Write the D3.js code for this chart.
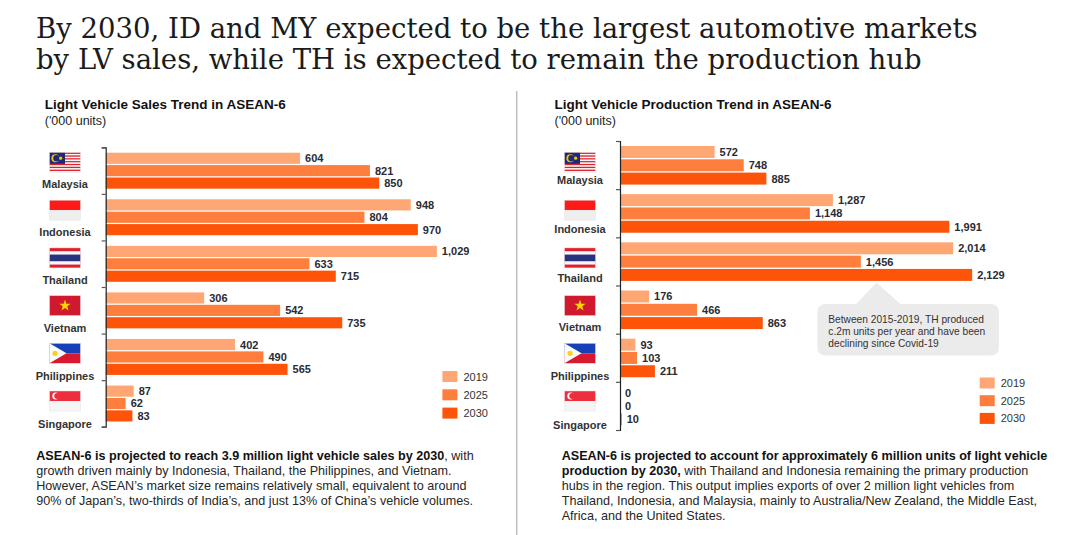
<!DOCTYPE html>
<html>
<head>
<meta charset="utf-8">
<script src="https://cdn.jsdelivr.net/npm/d3@7"></script>
<style>
  body { margin: 0; background: #fff; }
  svg { display: block; font-family: "Liberation Sans", Arial, sans-serif; }
</style>
</head>
<body>
<svg id="chart" width="1080" height="535"></svg>
<script>
// ASEAN-6 light vehicle sales vs production, two grouped horizontal bar panels.

const countries = ['Malaysia', 'Indonesia', 'Thailand', 'Vietnam', 'Philippines', 'Singapore'];
const years = ['2019', '2025', '2030'];

// '000 units
const sales2019 = [604, 948, 1029, 306, 402, 87];
const sales2025 = [821, 804, 633, 542, 490, 62];
const sales2030 = [850, 970, 715, 735, 565, 83];

const prod2019 = [572, 1287, 2014, 176, 93, 0];
const prod2025 = [748, 1148, 1456, 466, 103, 0];
const prod2030 = [885, 1991, 2129, 863, 211, 10];

const headline = [
  'By 2030, ID and MY expected to be the largest automotive markets',
  'by LV sales, while TH is expected to remain the production hub',
];
const calloutLines = [
  'Between 2015-2019, TH produced',
  'c.2m units per year and have been',
  'declining since Covid-19',
];
const salesNote = [
  [['ASEAN-6 is projected to reach 3.9 million light vehicle sales by 2030', true], [', with', false]],
  [['growth driven mainly by Indonesia, Thailand, the Philippines, and Vietnam.', false]],
  [['However, ASEAN\u2019s market size remains relatively small, equivalent to around', false]],
  [['90% of Japan\u2019s, two-thirds of India\u2019s, and just 13% of China\u2019s vehicle volumes.', false]],
];
const prodNote = [
  [['ASEAN-6 is projected to account for approximately 6 million units of light vehicle', true]],
  [['production by 2030,', true], [' with Thailand and Indonesia remaining the primary production', false]],
  [['hubs in the region. This output implies exports of over 2 million light vehicles from', false]],
  [['Thailand, Indonesia, and Malaysia, mainly to Australia/New Zealand, the Middle East,', false]],
  [['Africa, and the United States.', false]],
];

const color = d3.scaleOrdinal().domain(years).range(['#fea774', '#fd7e3d', '#fe5409']);
const fmt = d3.format(',');
const svg = d3.select('#chart');

// headline, sized to the reference line width
const head = svg.append('g')
  .attr('font-family', 'Georgia, "DejaVu Serif", serif')
  .attr('fill', '#1b1b1b');
const headLines = head.selectAll('text').data(headline).join('text')
  .attr('x', 36)
  .attr('y', (d, i) => 38 + i * 31)
  .attr('font-size', 28)
  .text((d) => d);
const w0 = headLines.nodes()[0].getComputedTextLength();
headLines.attr('font-size', 28 * 942 / w0);

// divider between the two panels
svg.append('line')
  .attr('x1', 516.7).attr('x2', 516.7).attr('y1', 91).attr('y2', 535)
  .attr('stroke', '#bdbdbd').attr('stroke-width', 1.5);

function drawFlag(g, name, w, h) {
  const r = (x, y, ww, hh, fill) => g.append('rect').attr('x', x).attr('y', y)
    .attr('width', ww).attr('height', hh).attr('fill', fill);
  if (name === 'Malaysia') {
    for (let i = 0; i < 14; i++) r(0, i * h / 14, w, h / 14 + 0.1, i % 2 ? '#f7f7f7' : '#d9262e');
    r(0, 0, w * 0.5, h * 8 / 14, '#1d2a7a');
    g.append('circle').attr('cx', w * 0.19).attr('cy', h * 4 / 14).attr('r', h * 0.2).attr('fill', '#f7c600');
    g.append('circle').attr('cx', w * 0.225).attr('cy', h * 4 / 14).attr('r', h * 0.16).attr('fill', '#1d2a7a');
    g.append('circle').attr('cx', w * 0.36).attr('cy', h * 4 / 14).attr('r', h * 0.08).attr('fill', '#f7c600');
  } else if (name === 'Indonesia') {
    r(0, 0, w, h / 2, '#ff1a1a');
    r(0, h / 2, w, h / 2, '#eeeeee');
  } else if (name === 'Thailand') {
    r(0, 0, w, h, '#e01f2a');
    r(0, h / 6, w, h * 4 / 6, '#f7f7f7');
    r(0, h * 2 / 6, w, h * 2 / 6, '#27337c');
  } else if (name === 'Vietnam') {
    r(0, 0, w, h, '#d0182e');
    const star = d3.range(10).map((k) => {
      const a = -Math.PI / 2 + k * Math.PI / 5;
      const rr = k % 2 ? h * 0.12 : h * 0.3;
      return [w / 2 + rr * Math.cos(a), h / 2 + rr * Math.sin(a)];
    });
    g.append('polygon').attr('points', star.join(' ')).attr('fill', '#ffd400');
  } else if (name === 'Philippines') {
    r(0, 0, w, h / 2, '#1540b8');
    r(0, h / 2, w, h / 2, '#d8182f');
    g.append('polygon').attr('points', `0,0 ${h * 0.85},${h / 2} 0,${h}`).attr('fill', '#fafafa');
    g.append('circle').attr('cx', h * 0.28).attr('cy', h / 2).attr('r', h * 0.13).attr('fill', '#fcd116');
  } else if (name === 'Singapore') {
    r(0, 0, w, h / 2, '#ee2e3c');
    r(0, h / 2, w, h / 2, '#f5f5f5');
    g.append('circle').attr('cx', w * 0.2).attr('cy', h / 4).attr('r', h * 0.17).attr('fill', '#fff');
    g.append('circle').attr('cx', w * 0.25).attr('cy', h / 4).attr('r', h * 0.15).attr('fill', '#ee2e3c');
  }
  g.append('rect').attr('width', w).attr('height', h).attr('fill', 'none')
    .attr('stroke', '#e4e4e4').attr('stroke-width', 0.5);
}

function paragraph(x, y0, lines) {
  const t = svg.append('g').attr('font-size', 12.6).attr('fill', '#222');
  lines.forEach((segs, i) => {
    const line = t.append('text').attr('x', x).attr('y', y0 + i * 15);
    segs.forEach(([txt, bold]) => {
      line.append('tspan').attr('font-weight', bold ? 'bold' : 'normal')
        .attr('fill', bold ? '#111' : '#262626').text(txt);
    });
  });
}

function drawPanel(p) {
  const g = svg.append('g');

  g.append('text').attr('x', p.titleX).attr('y', 108.5)
    .attr('font-size', 13.5).attr('font-weight', 'bold').attr('fill', '#111').text(p.title);
  g.append('text').attr('x', p.titleX).attr('y', 124.5)
    .attr('font-size', 12.5).attr('fill', '#222').text("('000 units)");

  const y = d3.scaleBand().domain(countries).range([p.top, p.bottom]);
  const yIn = d3.scaleBand().domain(years)
    .range([p.padTop, y.bandwidth() - p.padBottom]).paddingInner(0.1);
  const x = d3.scaleLinear().domain(p.domain).range(p.range);

  const rows = countries.map((c, i) => ({
    country: c,
    values: years.map((yr, j) => ({ year: yr, value: p.series[j][i] })),
  }));

  const row = g.selectAll('g.row').data(rows).join('g')
    .attr('class', 'row')
    .attr('transform', (d) => `translate(0,${y(d.country)})`);

  row.selectAll('rect').data((d) => d.values).join('rect')
    .attr('x', x(0))
    .attr('y', (d) => yIn(d.year))
    .attr('width', (d) => x(d.value) - x(0))
    .attr('height', yIn.bandwidth())
    .attr('fill', (d) => color(d.year));

  row.selectAll('text').data((d) => d.values).join('text')
    .attr('x', (d) => x(d.value) + 5)
    .attr('y', (d) => yIn(d.year) + yIn.bandwidth() / 2)
    .attr('dy', '0.36em')
    .attr('font-size', 11).attr('font-weight', 'bold').attr('fill', '#2b2b33')
    .text((d) => fmt(d.value));

  // category axis: ticks on the boundaries between countries
  const edges = d3.scaleLinear().domain([0, countries.length]).range([p.top, p.bottom]);
  const axis = g.append('g').attr('transform', `translate(${x(0)},0)`)
    .call(d3.axisLeft(edges).tickValues(d3.range(countries.length + 1))
      .tickSize(4).tickSizeOuter(4).tickFormat(''));
  axis.select('.domain').attr('stroke', '#222').attr('stroke-width', 1.2);
  axis.selectAll('.tick line').attr('stroke', '#555').attr('stroke-width', 1.2);

  // flags and country names
  const flagY = d3.scalePoint().domain(countries).range([152.5, 391]);
  const nameY = d3.scalePoint().domain(countries).range(p.nameRange);
  countries.forEach((c) => {
    const fg = g.append('g').attr('transform', `translate(${p.flagX - 15.5},${flagY(c)})`);
    drawFlag(fg, c, 31, 20);
  });
  g.selectAll('text.name').data(countries).join('text')
    .attr('class', 'name')
    .attr('x', p.flagX).attr('y', (d) => nameY(d))
    .attr('text-anchor', 'middle')
    .attr('font-size', 11).attr('font-weight', 'bold').attr('fill', '#333')
    .text((d) => d);

  // legend
  const lg = g.selectAll('g.leg').data(years).join('g')
    .attr('class', 'leg')
    .attr('transform', (d, i) => `translate(${p.legendX},${p.legendY + i * p.legendStep})`);
  lg.append('rect').attr('width', 15).attr('height', 11).attr('fill', (d) => color(d));
  lg.append('text').attr('x', 21).attr('y', 9.5)
    .attr('font-size', 11).attr('fill', '#333').text((d) => d);

  return { x, y, yIn };
}

drawPanel({
  title: 'Light Vehicle Sales Trend in ASEAN-6',
  titleX: 44.8,
  series: [sales2019, sales2025, sales2030],
  top: 147.3, bottom: 426.7, padTop: 5.4, padBottom: 5.2,
  domain: [0, 1100], range: [105.7, 105.7 + 354],
  flagX: 65, nameRange: [188, 427.5],
  legendX: 442.4, legendY: 371, legendStep: 18.3,
});

const prod = drawPanel({
  title: 'Light Vehicle Production Trend in ASEAN-6',
  titleX: 554.5,
  series: [prod2019, prod2025, prod2030],
  top: 141, bottom: 430, padTop: 5, padBottom: 4.6,
  domain: [0, 2400], range: [620, 620 + 397],
  flagX: 580, nameRange: [183.5, 428.5],
  legendX: 979.7, legendY: 377.5, legendStep: 17.7,
});

// callout under Thailand's production bars
const th = prod.y('Thailand') + prod.yIn('2030') + prod.yIn.bandwidth();
const tipX = prod.x(1550);
const cg = svg.append('g');
cg.append('polygon')
  .attr('points', `${tipX},${th + 1.5} ${tipX - 21},${th + 24} ${tipX + 25},${th + 24}`)
  .attr('fill', '#ebebeb');
cg.append('rect').attr('x', 817.3).attr('y', th + 23).attr('width', 181.7).attr('height', 51.6)
  .attr('rx', 8).attr('fill', '#ebebeb');
cg.selectAll('text').data(calloutLines).join('text')
  .attr('x', 828.3).attr('y', (d, i) => th + 42 + i * 11.8)
  .attr('font-size', 10.2)
  .attr('fill', '#333').text((d) => d);

paragraph(36.2, 460, salesNote);
paragraph(561.7, 460, prodNote);
</script>
</body>
</html>
